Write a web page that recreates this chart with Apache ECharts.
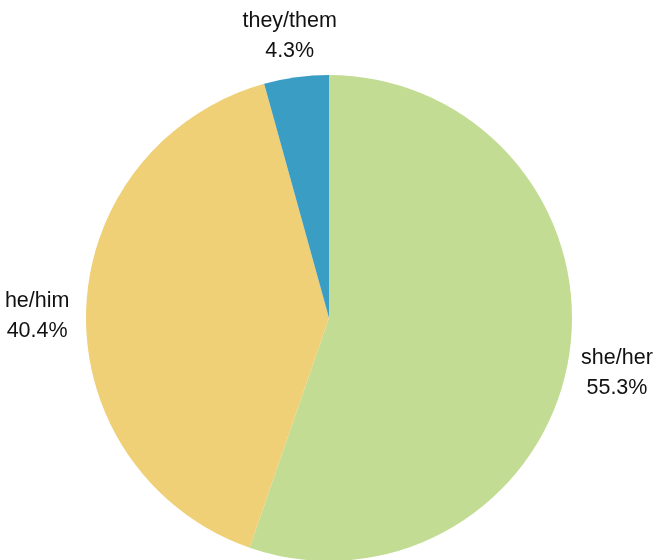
<!DOCTYPE html>
<html><head><meta charset="utf-8">
<script src="https://cdn.jsdelivr.net/npm/echarts@6/dist/echarts.min.js"></script>
<style>html,body{margin:0;padding:0;background:#fff}#c{width:659px;height:560px}</style>
</head><body><div id="c"></div>
<script>
const categories = ['she/her', 'he/him', 'they/them'];
const values = [55.3, 40.4, 4.3];
const colors = ['#c2dc93', '#efd077', '#3a9dc4'];

const chart = echarts.init(document.getElementById('c'));
const pieData = categories.map((c, i) => ({ name: c, value: values[i], itemStyle: { color: colors[i] } }));
const labelData = categories.map((c, i) => ({ name: c, value: values[i] }));
chart.setOption({
  animation: false,
  series: [
    {
      type: 'pie', center: [329, 318], radius: [0, 243], startAngle: 90, clockwise: true,
      silent: true, label: { show: false }, labelLine: { show: false },
      data: pieData
    },
    {
      type: 'pie', center: [329, 318], radius: [267, 311], startAngle: 90, clockwise: true,
      silent: true, itemStyle: { color: 'rgba(0,0,0,0)' },
      label: {
        show: true, position: 'inside', color: '#111', fontFamily: 'Liberation Sans', fontSize: 21.5, lineHeight: 30,
        offset: [0, 7],
        formatter: p => p.name + '\n' + p.value.toFixed(1) + '%'
      },
      labelLine: { show: false },
      data: labelData
    }
  ]
});
</script></body></html>
